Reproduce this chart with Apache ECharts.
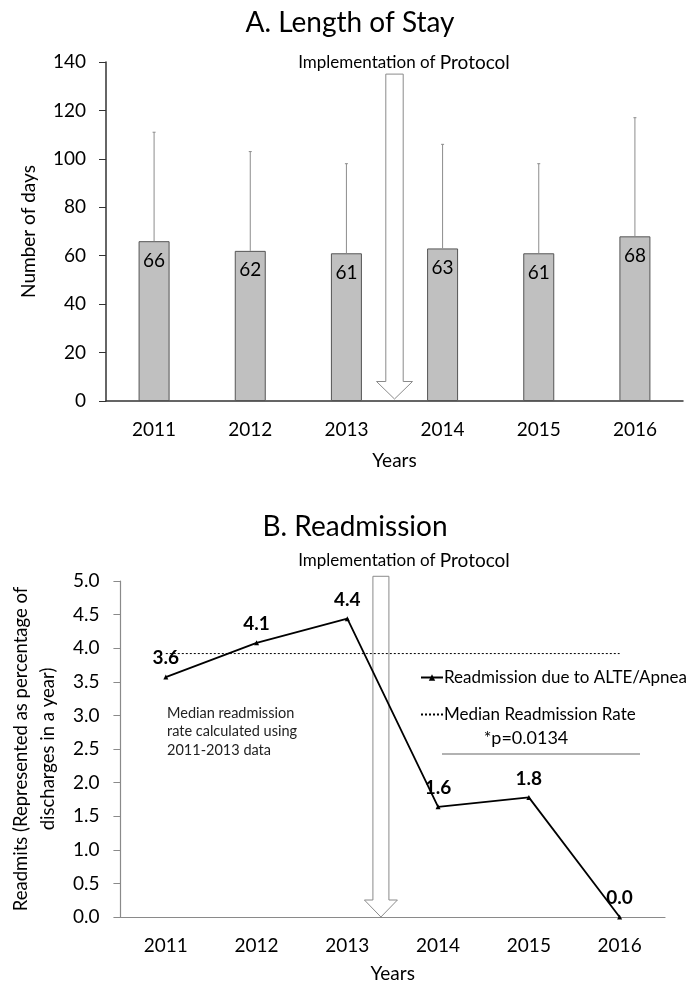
<!DOCTYPE html>
<html><head><meta charset="utf-8">
<script src="https://cdn.jsdelivr.net/npm/echarts@6/dist/echarts.min.js"></script>
<style>html,body{margin:0;padding:0;background:#fff}#c{width:700px;height:999px}</style>
</head><body><div id="c"></div>
<script>
// ---- data ----
const years = ['2011', '2012', '2013', '2014', '2015', '2016'];
const losMean = [66, 62, 61, 63, 61, 68];
const losUpper = [111, 103, 98, 106, 98, 117];
const readmit = [3.57, 4.08, 4.44, 1.64, 1.78, 0.0];
const readmitLabels = ['3.6', '4.1', '4.4', '1.6', '1.8', '0.0'];
const medianRate = [3.92, 3.92, 3.92, 3.92, 3.92, 3.92];
const losAxis = { min: 0, max: 140, interval: 20 };
const readAxis = { min: 0, max: 5, interval: 0.5 };
const arrowTop = { pos: 2.5, top: 135 };      // category index / days
const arrowBottom = { pos: 2.37, top: 5.07 }; // category index / percent

const FONT = 'Lato';
const chart = echarts.init(document.getElementById('c'));

function arrowItem(a) {
  const i = Math.floor(a.pos);
  return [[i, a.top, a.pos - i]];
}
function makeArrowRender(shaftHalf, headHalf, headH, tipGap) {
  return function (params, api) {
    const i = api.value(0), top = api.value(1), f = api.value(2);
    const p0 = api.coord([i, top]), p1 = api.coord([i + 1, top]);
    const x = p0[0] + (p1[0] - p0[0]) * f;
    const yTop = p0[1];
    const yTip = api.coord([i, 0])[1] - tipGap;
    const yHead = yTip - headH;
    return {
      type: 'polygon',
      shape: { points: [
        [x - shaftHalf, yTop], [x + shaftHalf, yTop], [x + shaftHalf, yHead],
        [x + headHalf, yHead], [x, yTip], [x - headHalf, yHead], [x - shaftHalf, yHead]
      ] },
      style: { fill: '#fff', stroke: '#8a8a8a', lineWidth: 1 }
    };
  };
}

const errData = years.map((y, i) => [i, losMean[i], losUpper[i]]);
const implText = {
  text: '{a|Implementation of }{b|Protocol}', textAlign: 'center', textVerticalAlign: 'middle',
  rich: { a: { fontSize: 17, fontFamily: FONT, fill: '#000' }, b: { fontSize: 19, fontFamily: FONT, fill: '#000' } }
};

const option = {
  animation: false,
  textStyle: { fontFamily: FONT },
  grid: [
    { left: 106, right: 17, top: 62, height: 339 },
    { left: 120, right: 35, top: 581, height: 336 }
  ],
  legend: {
    data: ['Readmission due to ALTE/Apnea', 'Median Readmission Rate'],
    orient: 'vertical', left: 415, top: 664, itemGap: 20,
    itemWidth: 22, itemHeight: 8,
    textStyle: { fontFamily: FONT, fontSize: 17, color: '#000', padding: [0, 0, 0, -4] }
  },
  xAxis: [
    { gridIndex: 0, type: 'category', data: years,
      axisLine: { lineStyle: { color: '#333', width: 1.5 } },
      axisTick: { alignWithLabel: true, length: 7, lineStyle: { color: '#333' } },
      axisLabel: { color: '#000', fontSize: 19, margin: 19, fontFamily: FONT },
      name: 'Years', nameLocation: 'middle', nameGap: 50,
      nameTextStyle: { color: '#000', fontSize: 19, fontFamily: FONT } },
    { gridIndex: 1, type: 'category', data: years,
      axisLine: { lineStyle: { color: '#8a8a8a', width: 1.2 } },
      axisTick: { alignWithLabel: true, length: 7, lineStyle: { color: '#8a8a8a' } },
      axisLabel: { color: '#000', fontSize: 19, margin: 19, fontFamily: FONT },
      name: 'Years', nameLocation: 'middle', nameGap: 47,
      nameTextStyle: { color: '#000', fontSize: 19, fontFamily: FONT } }
  ],
  yAxis: [
    { gridIndex: 0, type: 'value', min: losAxis.min, max: losAxis.max, interval: losAxis.interval,
      splitLine: { show: false },
      axisLine: { show: true, lineStyle: { color: '#333', width: 1.5 } },
      axisTick: { show: true, length: 7, lineStyle: { color: '#333' } },
      axisLabel: { color: '#000', fontSize: 19, margin: 20, fontFamily: FONT },
      name: 'Number of days', nameLocation: 'middle', nameGap: 68,
      nameTextStyle: { color: '#000', fontSize: 19, fontFamily: FONT } },
    { gridIndex: 1, type: 'value', min: readAxis.min, max: readAxis.max, interval: readAxis.interval,
      splitLine: { show: false },
      axisLine: { show: true, lineStyle: { color: '#8a8a8a', width: 1.2 } },
      axisTick: { show: true, length: 7, lineStyle: { color: '#8a8a8a' } },
      axisLabel: { color: '#000', fontSize: 19, margin: 21, fontFamily: FONT,
        formatter: v => v.toFixed(1) },
      name: 'Readmits (Represented as percentage of\ndischarges in a year)',
      nameLocation: 'middle', nameGap: 53,
      nameTextStyle: { color: '#000', fontSize: 18.5, lineHeight: 27, fontFamily: FONT, align: 'center' } }
  ],
  series: [
    { type: 'bar', xAxisIndex: 0, yAxisIndex: 0, data: losMean, barWidth: 31,
      itemStyle: { color: '#c0c0c0', borderColor: '#555', borderWidth: 1 },
      label: { show: true, position: 'insideTop', distance: 10, color: '#000', fontSize: 19, fontFamily: FONT },
      z: 2 },
    { type: 'custom', xAxisIndex: 0, yAxisIndex: 0, data: errData, z: 3,
      renderItem: function (params, api) {
        const x = api.value(0);
        const lo = api.coord([x, api.value(1)]);
        const hi = api.coord([x, api.value(2)]);
        return { type: 'group', children: [
          { type: 'line', shape: { x1: lo[0], y1: lo[1], x2: hi[0], y2: hi[1] },
            style: { stroke: '#8c8c8c', lineWidth: 1 } },
          { type: 'line', shape: { x1: hi[0] - 1.5, y1: hi[1], x2: hi[0] + 1.5, y2: hi[1] },
            style: { stroke: '#8c8c8c', lineWidth: 1 } }
        ] };
      } },
    { type: 'custom', xAxisIndex: 0, yAxisIndex: 0, data: arrowItem(arrowTop), z: 4, clip: false,
      renderItem: makeArrowRender(8.7, 18, 17.5, 2) },
    { type: 'custom', xAxisIndex: 1, yAxisIndex: 1, data: arrowItem(arrowBottom), z: 1, clip: false,
      renderItem: makeArrowRender(8, 16.5, 17, 0) },
    { name: 'Median Readmission Rate', type: 'line', xAxisIndex: 1, yAxisIndex: 1, data: medianRate,
      symbol: 'circle', showSymbol: false, symbolSize: 0,
      itemStyle: { color: 'rgba(0,0,0,0)' },
      lineStyle: { color: '#000', width: 1, type: [2, 2] }, z: 2 },
    { name: 'Readmission due to ALTE/Apnea', type: 'line', xAxisIndex: 1, yAxisIndex: 1,
      data: readmit.map((v, i) => ({ value: v, label: { formatter: readmitLabels[i] } })),
      symbol: 'triangle', symbolSize: 5, itemStyle: { color: '#000' },
      lineStyle: { color: '#000', width: 1.8 },
      label: { show: true, position: 'top', distance: 7, fontWeight: 'bold', fontSize: 19,
        color: '#000', fontFamily: FONT },
      z: 5 }
  ],
  graphic: [
    { type: 'text', x: 350, y: 23,
      style: { text: 'A. Length of Stay', font: '28px ' + FONT, fill: '#000', textAlign: 'center', textVerticalAlign: 'middle' } },
    { type: 'text', x: 404, y: 63, style: implText },
    { type: 'text', x: 355, y: 527,
      style: { text: 'B. Readmission', font: '28px ' + FONT, fill: '#000', textAlign: 'center', textVerticalAlign: 'middle' } },
    { type: 'text', x: 404, y: 561, style: implText },
    { type: 'text', x: 167, y: 704,
      style: { text: 'Median readmission\nrate calculated using\n2011-2013 data', font: '14.5px ' + FONT,
        lineHeight: 18.5, fill: '#222' } },
    { type: 'text', x: 526, y: 738,
      style: { text: '*p=0.0134', font: '18px ' + FONT, fill: '#000', textAlign: 'center', textVerticalAlign: 'middle' } },
    { type: 'line', shape: { x1: 442, y1: 754, x2: 640, y2: 754 }, style: { stroke: '#999', lineWidth: 1.5 } }
  ]
};
chart.setOption(option);
</script></body></html>
